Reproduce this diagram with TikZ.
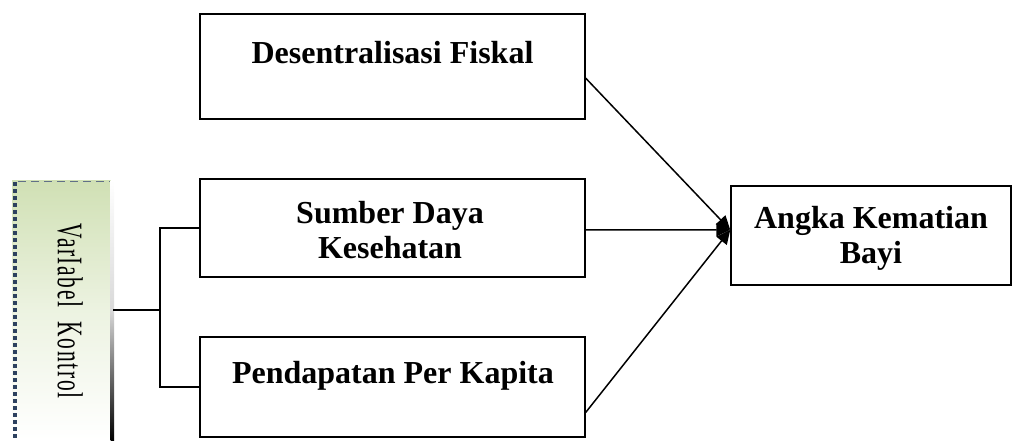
\documentclass[tikz,border=0pt]{standalone}
\usepackage{fontspec}
\setmainfont{Liberation Serif}
\usetikzlibrary{arrows.meta,calc}
\definecolor{vkgreen}{RGB}{208,224,180}
\definecolor{vkdash}{RGB}{45,65,95}
\begin{document}
\begin{tikzpicture}[x=1pt,y=-1pt,
  box/.style={draw,line width=1.5pt,inner sep=0pt},
  lbl/.style={font=\fontsize{32}{35}\selectfont\bfseries,align=center,inner sep=0pt},
  conn/.style={line width=1.5pt},
  arr/.style={line width=1.5pt,-{Triangle[length=14pt,width=13pt]}}]
\useasboundingbox (0,0) rectangle (1023,440);
% variable control panel
\node[inner sep=0pt,minimum width=101pt,minimum height=260pt,
      top color=vkgreen,bottom color=white,middle color=vkgreen!40!white] (vk) at (62.5,310) {};
\shade[top color=white,bottom color=black,middle color=white!70!gray] (110.5,180) rectangle (114,440);
\draw[vkdash,line width=4pt,dash pattern=on 4pt off 3pt] (15,182) -- (15,440);
\draw[vkdash!75,line width=1.8pt,dash pattern=on 8pt off 5pt] (18,181.5) -- (110,181.5);
\node[rotate=-90,inner sep=0pt] (vkt) at (70,311)
  {\resizebox{175pt}{25pt}{\addfontfeatures{LetterSpace=8}Var\kern0.5pt Iabel\ \ Kontrol}};
% boxes
\node[box,minimum width=385pt,minimum height=105pt] (b1) at (392.5,66.5) {};
\node[box,minimum width=385pt,minimum height=98pt] (b2) at (392.5,228) {};
\node[box,minimum width=385pt,minimum height=100pt] (b3) at (392.5,387) {};
\node[box,minimum width=280pt,minimum height=99pt] (t) at (871,235.5) {};
% texts
\node[lbl] (l1) at (392.5,53) {Desentralisasi Fiskal};
\node[lbl] (l2) at (390,230) {Sumber Daya\\Kesehatan};
\node[lbl] (l3) at (393,376) {Pendapatan Per Kapita};
\node[lbl] (l4) at (871,238) {Angka Kematian\\Bayi};
% bracket
\coordinate (j) at (160,310);
\draw[conn] (vk.east) -- (j);
\draw[conn] (b2.west) -| (j) |- (b3.west);
% arrows
\coordinate (tip) at ($(t.north west)!0.444!(t.south west)$);
\draw[arr] ($(b1.north east)!0.61!(b1.south east)$) -- (tip);
\draw[arr] ($(b2.north east)!0.52!(b2.south east)$) -- (tip);
\draw[arr] ($(b3.north east)!0.75!(b3.south east)$) -- (tip);
\end{tikzpicture}
\end{document}
